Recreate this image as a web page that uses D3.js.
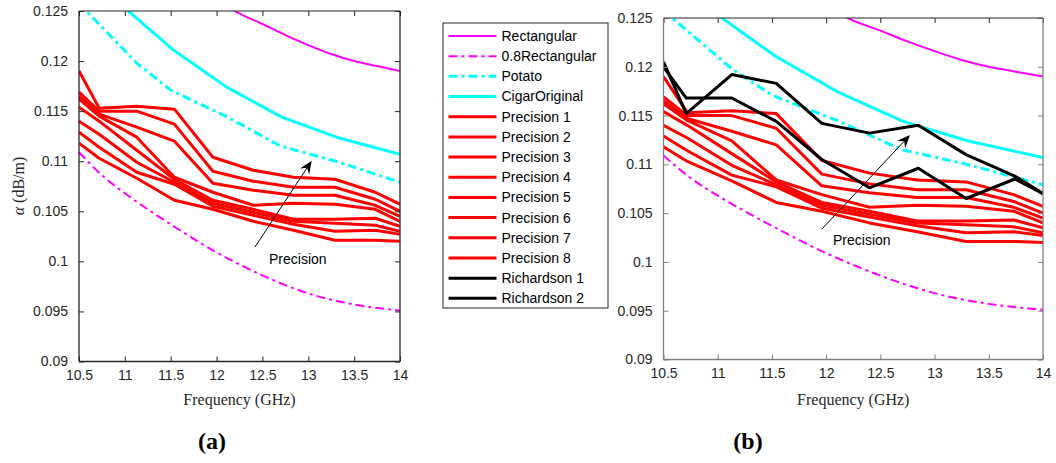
<!DOCTYPE html>
<html><head><meta charset="utf-8">
<script src="https://cdn.jsdelivr.net/npm/d3@7"></script>
<style>body{margin:0;background:#fff;} svg{display:block;}</style>
</head><body>
<svg id="c" width="1056" height="463"></svg>
<script>
// ---------------- data ----------------
const xTicks = [10.5, 11, 11.5, 12, 12.5, 13, 13.5, 14];
const xTickLabels = ["10.5", "11", "11.5", "12", "12.5", "13", "13.5", "14"];
const yTicks = [0.09, 0.095, 0.1, 0.105, 0.11, 0.115, 0.12, 0.125];
const yTickLabels = ["0.09", "0.095", "0.1", "0.105", "0.11", "0.115", "0.12", "0.125"];

const rectFreq = [12.1, 12.2, 12.5, 12.75, 13.0, 13.25, 13.5, 13.75, 14.0];
const rectVals = [0.1256, 0.1250, 0.1237, 0.1226, 0.1216, 0.1207, 0.1200, 0.1195, 0.1190];

const rect08Freq = [10.5, 10.75, 11.0, 11.5, 12.0, 12.5, 13.0, 13.5, 14.0];
const rect08Vals = [0.1109, 0.1086, 0.1068, 0.1037, 0.1009, 0.0986, 0.0968, 0.0957, 0.0951];

const potatoFreq = [10.5, 10.58, 11.13, 11.5, 12.1, 12.7, 13.3, 14.0];
const potatoVals = [0.1258, 0.1250, 0.1198, 0.1171, 0.1145, 0.1115, 0.1100, 0.1079];

const cigarFreq = [10.9, 11.04, 11.53, 12.11, 12.71, 13.31, 14.0];
const cigarVals = [0.1262, 0.1250, 0.1211, 0.1174, 0.1144, 0.1124, 0.1107];

const precFreq = [10.5, 10.72, 11.13, 11.54, 11.96, 12.40, 12.84, 13.29, 13.73, 14.0];
const precision1 = [0.1190, 0.1153, 0.1155, 0.1152, 0.1104, 0.1091, 0.1084, 0.1082, 0.1069, 0.1057];
const precision2 = [0.1169, 0.1150, 0.1150, 0.1137, 0.1090, 0.1080, 0.1074, 0.1074, 0.1062, 0.1050];
const precision3 = [0.1165, 0.1147, 0.1134, 0.1120, 0.1078, 0.1071, 0.1066, 0.1066, 0.1056, 0.1045];
const precision4 = [0.1162, 0.1145, 0.1124, 0.1084, 0.1069, 0.1056, 0.1058, 0.1057, 0.1052, 0.1040];
const precision5 = [0.1154, 0.1140, 0.1111, 0.1082, 0.1061, 0.1052, 0.1042, 0.1042, 0.1043, 0.1035];
const precision6 = [0.1140, 0.1127, 0.1099, 0.1079, 0.1058, 0.1049, 0.1040, 0.1038, 0.1036, 0.1030];
const precision7 = [0.1129, 0.1114, 0.1089, 0.1077, 0.1055, 0.1046, 0.1037, 0.1030, 0.1031, 0.1027];
const precision8 = [0.1118, 0.1103, 0.1083, 0.1061, 0.1052, 0.1040, 0.1031, 0.1021, 0.1021, 0.1020];

const richFreq = [10.5, 10.71, 11.13, 11.54, 11.96, 12.40, 12.85, 13.29, 13.74, 14.0];
const richardson1 = [0.1205, 0.1152, 0.1192, 0.1183, 0.1142, 0.1132, 0.1140, 0.1110, 0.1088, 0.1070];
const richardson2 = [0.1200, 0.1168, 0.1168, 0.1144, 0.1105, 0.1076, 0.1096, 0.1065, 0.1085, 0.1070];

const legendNames = ["Rectangular", "0.8Rectangular", "Potato", "CigarOriginal",
  "Precision 1", "Precision 2", "Precision 3", "Precision 4", "Precision 5",
  "Precision 6", "Precision 7", "Precision 8", "Richardson 1", "Richardson 2"];

const annotationText = "Precision";
const panelLabels = ["(a)", "(b)"];

// ---------------- styles ----------------
const MAG = "#ff00ff", CY = "#00ffff", RED = "#ff0000", BLK = "#000000";
const DASHDOT = "9,4,3,4";
const precArrays = [precision1, precision2, precision3, precision4, precision5, precision6, precision7, precision8];

const baseSeries = [
  {name: legendNames[0], f: rectFreq, v: rectVals, color: MAG, w: 2, dash: null, smooth: true},
  {name: legendNames[1], f: rect08Freq, v: rect08Vals, color: MAG, w: 2, dash: DASHDOT, smooth: true},
  {name: legendNames[2], f: potatoFreq, v: potatoVals, color: CY, w: 3, dash: DASHDOT},
  {name: legendNames[3], f: cigarFreq, v: cigarVals, color: CY, w: 3, dash: null},
].concat(precArrays.map((a, i) => ({name: legendNames[4 + i], f: precFreq, v: a, color: RED, w: 3, dash: null})));
const richSeries = [
  {name: legendNames[12], f: richFreq, v: richardson1, color: BLK, w: 3, dash: null},
  {name: legendNames[13], f: richFreq, v: richardson2, color: BLK, w: 3, dash: null},
];

const svg = d3.select("#c");
const TICKFONT = "'Liberation Sans', Arial, Helvetica, sans-serif";
const SERIF = "'Liberation Serif', 'Times New Roman', serif";

function drawPanel(cfg, series) {
  const x = d3.scaleLinear().domain([10.5, 14]).range([cfg.x0, cfg.x1]);
  const y = d3.scaleLinear().domain([0.09, 0.125]).range([cfg.y1, cfg.y0]);
  const g = svg.append("g");
  const clipId = "clip" + cfg.id;
  svg.append("defs").append("clipPath").attr("id", clipId)
    .append("rect").attr("x", cfg.x0).attr("y", cfg.y0)
    .attr("width", cfg.x1 - cfg.x0).attr("height", cfg.y1 - cfg.y0);

  const plot = g.append("g").attr("clip-path", `url(#${clipId})`);
  const line = d3.line().x(d => x(d[0])).y(d => y(d[1]));
  const sline = d3.line().x(d => x(d[0])).y(d => y(d[1])).curve(d3.curveMonotoneX);
  series.forEach(s => {
    const pts = s.f.map((f, i) => [f, s.v[i]]);
    plot.append("path").attr("d", (s.smooth ? sline : line)(pts)).attr("fill", "none")
      .attr("stroke", s.color).attr("stroke-width", s.w)
      .attr("stroke-linejoin", "round")
      .attr("stroke-dasharray", s.dash);
  });

  // axes
  const axB = d3.axisBottom(x).tickValues(xTicks).tickSize(-5).tickPadding(9)
    .tickFormat((d, i) => xTickLabels[i]);
  const axT = d3.axisTop(x).tickValues(xTicks).tickSize(-5).tickFormat("");
  const axL = d3.axisLeft(y).tickValues(yTicks).tickSize(-5).tickPadding(11)
    .tickFormat((d, i) => yTickLabels[i]);
  const axR = d3.axisRight(y).tickValues(yTicks).tickSize(-5).tickFormat("");
  const mk = (ax, tr, col) => {
    const a = g.append("g").attr("transform", tr).call(ax);
    a.select(".domain").remove();
    a.selectAll("line").attr("stroke", col);
    a.selectAll("text").attr("fill", "#262626").style("font-family", TICKFONT).style("font-size", "14px");
    return a;
  };
  mk(axB, `translate(0,${cfg.y1})`, cfg.sideCol);
  mk(axT, `translate(0,${cfg.y0})`, cfg.topCol);
  mk(axL, `translate(${cfg.x0},0)`, cfg.sideCol);
  mk(axR, `translate(${cfg.x1},0)`, cfg.sideCol);
  // frame
  g.append("line").attr("x1", cfg.x0).attr("x2", cfg.x1).attr("y1", cfg.y0).attr("y2", cfg.y0).attr("stroke", cfg.topCol).attr("stroke-width", 1);
  g.append("line").attr("x1", cfg.x0).attr("x2", cfg.x1).attr("y1", cfg.y1).attr("y2", cfg.y1).attr("stroke", cfg.sideCol).attr("stroke-width", 1.3);
  g.append("line").attr("x1", cfg.x0).attr("x2", cfg.x0).attr("y1", cfg.y0).attr("y2", cfg.y1).attr("stroke", cfg.sideCol).attr("stroke-width", 1.3);
  g.append("line").attr("x1", cfg.x1).attr("x2", cfg.x1).attr("y1", cfg.y0).attr("y2", cfg.y1).attr("stroke", cfg.sideCol).attr("stroke-width", 1.3);

  // x label
  g.append("text").attr("x", (cfg.x0 + cfg.x1) / 2).attr("y", 405)
    .attr("text-anchor", "middle").style("font-family", SERIF).style("font-size", "16px")
    .attr("fill", "#262626").text("Frequency (GHz)");

  // annotation arrow
  const [tx, ty] = cfg.arrowTail, [hx, hy] = cfg.arrowHead;
  const ang = Math.atan2(hy - ty, hx - tx);
  const L = 13, W = 5.5;
  const bx = hx - L * Math.cos(ang), by = hy - L * Math.sin(ang);
  const nx = hx - L * 0.65 * Math.cos(ang), ny = hy - L * 0.65 * Math.sin(ang);
  const px = -Math.sin(ang), py = Math.cos(ang);
  g.append("line").attr("x1", tx).attr("y1", ty).attr("x2", nx).attr("y2", ny)
    .attr("stroke", "#000").attr("stroke-width", 1);
  g.append("path").attr("d",
    `M${hx},${hy} L${bx + px * W},${by + py * W} L${nx},${ny} L${bx - px * W},${by - py * W} Z`)
    .attr("fill", "#000");
  g.append("text").attr("x", cfg.textPos[0]).attr("y", cfg.textPos[1])
    .style("font-family", TICKFONT).style("font-size", "14px").attr("fill", "#000")
    .text(annotationText);

  // panel label
  g.append("text").attr("x", cfg.panelX).attr("y", 449).attr("text-anchor", "middle")
    .style("font-family", SERIF).style("font-size", "24px").style("font-weight", "bold")
    .text(cfg.panel);
  return {x, y};
}

drawPanel({id: "a", x0: 79, x1: 400, y0: 11, y1: 361.5, topCol: "#262626", sideCol: "#262626",
  arrowTail: [255, 247], arrowHead: [311.7, 160.7], textPos: [269, 264], panelX: 212, panel: panelLabels[0]},
  baseSeries);
drawPanel({id: "b", x0: 663.5, x1: 1043, y0: 18, y1: 359.5, topCol: "#262626", sideCol: "#808080",
  arrowTail: [821.7, 229.3], arrowHead: [910, 135], textPos: [833, 245], panelX: 748, panel: panelLabels[1]},
  baseSeries.concat(richSeries));

// y label (left panel only)
svg.append("text").attr("transform", "translate(24,186) rotate(-90)")
  .attr("text-anchor", "middle").style("font-family", SERIF).style("font-size", "16px")
  .attr("fill", "#262626")
  .call(t => { t.append("tspan").style("font-style", "italic").text("α"); t.append("tspan").text(" (dB/m)"); });

// legend
const allSeries = baseSeries.concat(richSeries);
const lg = svg.append("g");
lg.append("rect").attr("x", 443).attr("y", 23).attr("width", 165).attr("height", 285)
  .attr("fill", "#fff").attr("stroke", "#262626").attr("stroke-width", 1);
allSeries.forEach((s, i) => {
  const yy = 36 + i * 20.18;
  lg.append("line").attr("x1", 448.5).attr("x2", 496.5).attr("y1", yy).attr("y2", yy)
    .attr("stroke", s.color).attr("stroke-width", s.w).attr("stroke-dasharray", s.dash);
  lg.append("text").attr("x", 501.5).attr("y", yy).attr("dy", "0.35em")
    .style("font-family", TICKFONT).style("font-size", "14px").attr("fill", "#000").text(s.name);
});
</script>
</body></html>
